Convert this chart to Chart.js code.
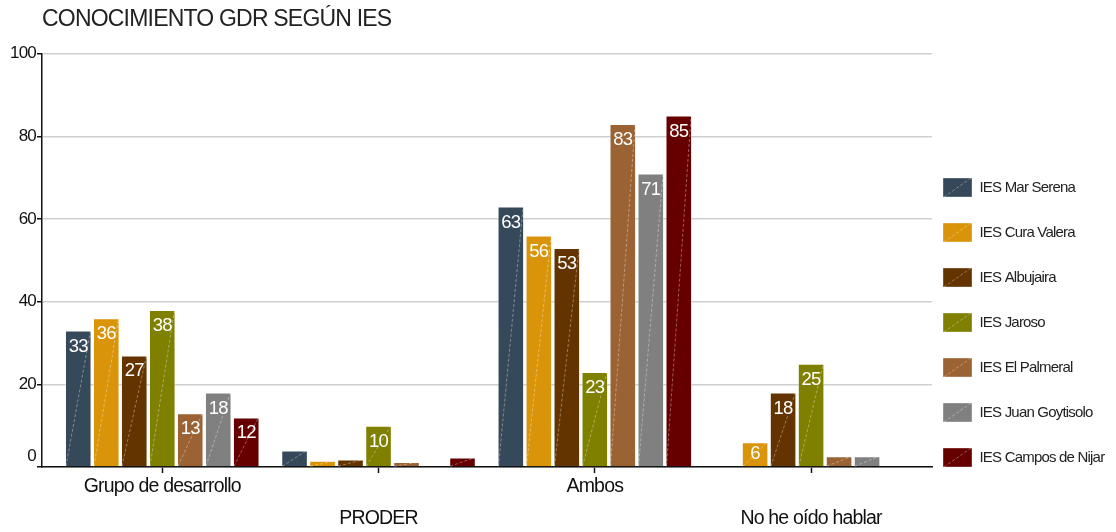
<!DOCTYPE html>
<html lang="es">
<head>
    <meta charset="UTF-8">
    <title>Conocimiento GDR según IES</title>
    <script src="https://cdn.jsdelivr.net/npm/chart.js"></script>
    <style>
        body {
            margin: 0;
            padding: 0;
            background-color: #fff;
        }
        .chart-container {
            width: 1116px;
            height: 532px;
        }
    </style>
</head>
<body>

<div class="chart-container">
    <canvas id="gdrChart"></canvas>
</div>

<script>
    const categories = ['Grupo de desarrollo', 'PRODER', 'Ambos', 'No he oído hablar'];
    const schools = ['IES Mar Serena', 'IES Cura Valera', 'IES Albujaira', 'IES Jaroso',
                     'IES El Palmeral', 'IES Juan Goytisolo', 'IES Campos de Nijar'];
    const marSerena = [33, 4, 63, 0];
    const curaValera = [36, 1.5, 56, 6];
    const albujaira = [27, 1.8, 53, 18];
    const jaroso = [38, 10, 23, 25];
    const elPalmeral = [13, 1.2, 83, 2.6];
    const juanGoytisolo = [18, 0, 71, 2.6];
    const camposNijar = [12, 2.3, 85, 0];
    const yTicks = [0, 20, 40, 60, 80, 100];

    const seriesValues = [marSerena, curaValera, albujaira, jaroso, elPalmeral, juanGoytisolo, camposNijar];
    const colors = ['#36495A', '#D9940A', '#633300', '#7F7F00', '#9B6233', '#808080', '#660000'];

    const FONT = "'Liberation Sans', Arial, sans-serif";
    const SPACING = '-0.8px'; // the original text is set very tight

    // tight letter spacing for every text the chart draws
    const tightText = {
        id: 'tightText',
        beforeUpdate(chart) { chart.ctx.letterSpacing = SPACING; },
        beforeDraw(chart) { chart.ctx.letterSpacing = SPACING; }
    };

    // white numbers inside the bars plus the faint diagonal stroke
    const barText = {
        id: 'barText',
        afterDatasetsDraw(chart) {
            const ctx = chart.ctx;
            ctx.save();
            chart.data.datasets.forEach((ds, i) => {
                chart.getDatasetMeta(i).data.forEach((bar, j) => {
                    const v = ds.data[j];
                    const h = bar.base - bar.y;
                    if (h <= 0) return;
                    const left = bar.x - bar.width / 2;
                    const right = bar.x + bar.width / 2;
                    ctx.setLineDash([3, 2]);
                    ctx.strokeStyle = 'rgba(255,255,255,0.45)';
                    ctx.lineWidth = 0.8;
                    ctx.beginPath();
                    ctx.moveTo(left + 1, bar.base);
                    ctx.lineTo(right - 1, bar.y);
                    ctx.stroke();
                    if (v >= 5) {
                        ctx.setLineDash([]);
                        ctx.fillStyle = '#fff';
                        ctx.font = '18.5px ' + FONT;
                        ctx.textAlign = 'center';
                        ctx.textBaseline = 'middle';
                        ctx.fillText(Math.round(v), bar.x, bar.y + Math.min(16, h / 2));
                    }
                });
            });
            ctx.restore();
        }
    };

    // move the legend a bit closer to the plot, and stroke its boxes like the bars
    const legendShift = {
        id: 'legendShift',
        afterLayout(chart) {
            chart.legend.left -= 15;
        },
        afterDraw(chart) {
            const ctx = chart.ctx;
            const lab = chart.options.plugins.legend.labels;
            ctx.save();
            ctx.setLineDash([3, 2]);
            ctx.strokeStyle = 'rgba(255,255,255,0.45)';
            ctx.lineWidth = 0.8;
            chart.legend.legendHitBoxes.forEach(hb => {
                ctx.beginPath();
                ctx.moveTo(hb.left + 1, hb.top + lab.boxHeight);
                ctx.lineTo(hb.left + lab.boxWidth - 1, hb.top);
                ctx.stroke();
            });
            ctx.restore();
        }
    };

    const ctx = document.getElementById('gdrChart').getContext('2d');
    const chart = new Chart(ctx, {
        type: 'bar',
        data: {
            labels: categories,
            datasets: schools.map((name, i) => ({
                label: name,
                data: seriesValues[i],
                backgroundColor: colors[i],
                borderColor: 'rgba(255,255,255,0.35)',
                borderWidth: 1,
                categoryPercentage: 0.906,
                barPercentage: 0.95
            }))
        },
        options: {
            responsive: true,
            maintainAspectRatio: false,
            animation: false,
            layout: {
                padding: 0
            },
            plugins: {
                title: {
                    display: true,
                    text: 'CONOCIMIENTO GDR SEGÚN IES',
                    align: 'start',
                    fullSize: false,
                    color: '#222',
                    font: { family: FONT, size: 23, weight: 'normal' },
                    padding: { top: 6, bottom: 20 }
                },
                legend: {
                    position: 'right',
                    align: 'start',
                    maxWidth: 184,
                    title: {
                        display: true,
                        text: ' ',
                        font: { size: 10 },
                        padding: { top: 140, bottom: 0 }
                    },
                    labels: {
                        boxWidth: 29,
                        boxHeight: 19,
                        padding: 26,
                        color: '#222',
                        font: { family: FONT, size: 15 }
                    }
                },
                tooltip: { enabled: false }
            },
            scales: {
                x: {
                    afterBuildTicks: (scale) => {
                        // a little breathing room at both ends of the category axis
                        scale._startValue -= 0.056;
                        scale._valueRange += 0.115;
                    },
                    afterFit: (scale) => { scale.height = 65; },
                    border: { color: '#111', width: 1.5 },
                    grid: {
                        display: true,
                        offset: false,
                        drawOnChartArea: false,
                        drawTicks: true,
                        tickLength: 6,
                        tickColor: '#111',
                        tickWidth: 1.5
                    },
                    ticks: {
                        maxRotation: 0,
                        autoSkip: false,
                        padding: -2,
                        color: '#111',
                        font: { family: FONT, size: 19.5, lineHeight: '32px' },
                        callback: function(value, index) {
                            const label = categories[index];
                            return index % 2 === 0 ? [label] : ['', label];
                        }
                    }
                },
                y: {
                    min: 0,
                    max: 100,
                    afterFit: (scale) => { scale.width = 42; },
                    afterBuildTicks: (scale) => {
                        scale.ticks = yTicks.map(v => ({ value: v }));
                    },
                    border: { color: '#111', width: 1.5 },
                    grid: {
                        color: '#cfcfcf',
                        lineWidth: 1.5,
                        drawTicks: true,
                        tickLength: 5,
                        tickColor: '#111'
                    },
                    ticks: {
                        padding: 1,
                        color: '#111',
                        font: { family: FONT, size: 17 },
                        // the zero sits a little above the axis in the original
                        callback: (value) => value === 0 ? ['0', ''] : value
                    }
                }
            }
        },
        plugins: [tightText, barText, legendShift]
    });
</script>

</body>
</html>
